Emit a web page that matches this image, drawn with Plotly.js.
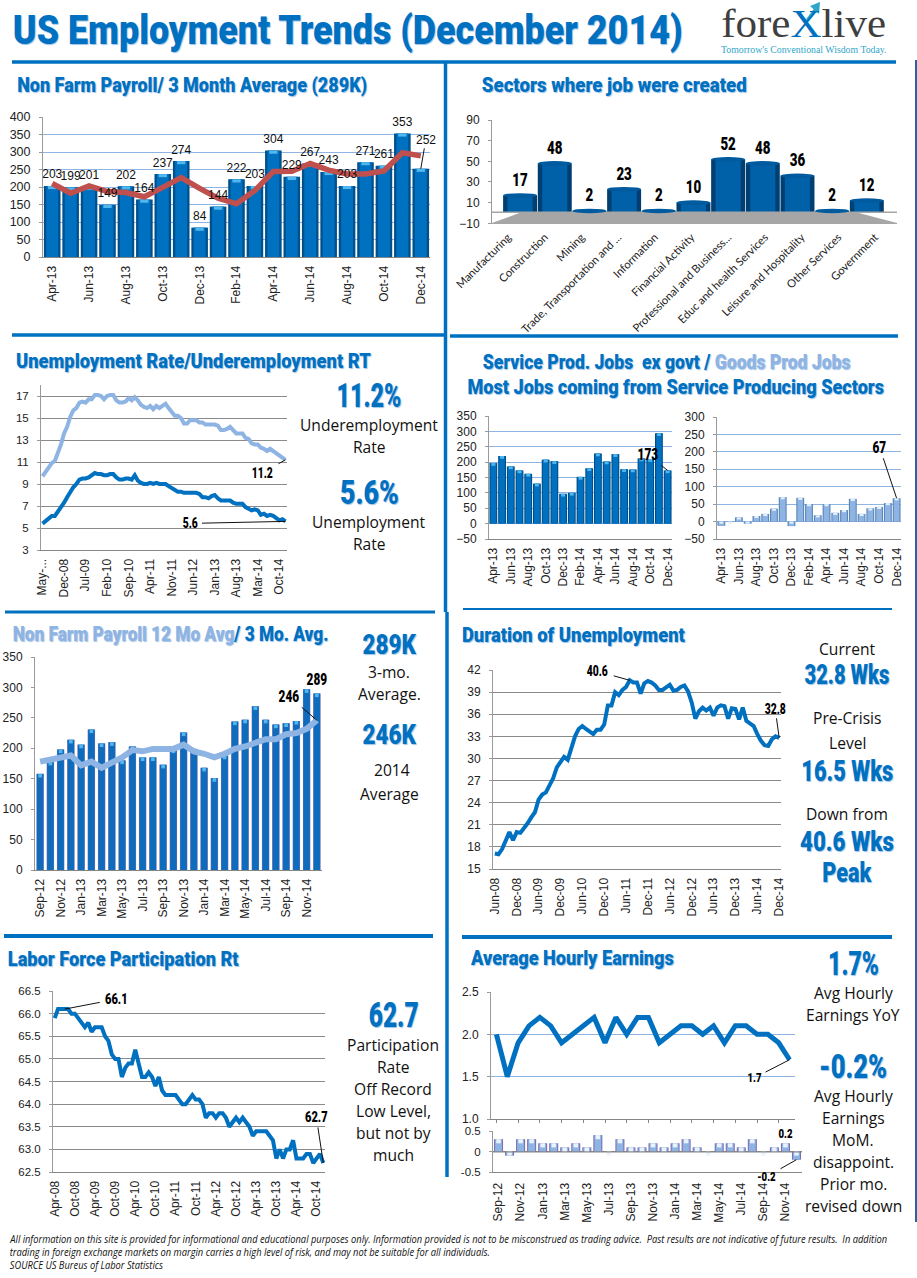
<!DOCTYPE html>
<html><head><meta charset="utf-8">
<script src="https://cdn.plot.ly/plotly-3.0.1.min.js"></script>
<style>html,body{margin:0;padding:0;background:#fff}#c{width:917px;height:1278px}</style>
</head><body><div id="c"></div>
<script>
// ---- data ----
const months21=["Apr-13","May-13","Jun-13","Jul-13","Aug-13","Sep-13","Oct-13","Nov-13","Dec-13","Jan-14","Feb-14","Mar-14","Apr-14","May-14","Jun-14","Jul-14","Aug-14","Sep-14","Oct-14","Nov-14","Dec-14"];
const months28=["Sep-12","Oct-12","Nov-12","Dec-12","Jan-13","Feb-13","Mar-13","Apr-13","May-13","Jun-13","Jul-13","Aug-13","Sep-13","Oct-13","Nov-13","Dec-13","Jan-14","Feb-14","Mar-14","Apr-14","May-14","Jun-14","Jul-14","Aug-14","Sep-14","Oct-14","Nov-14","Dec-14"];
const monNames=["Jan","Feb","Mar","Apr","May","Jun","Jul","Aug","Sep","Oct","Nov","Dec"];
function monthRange(m,y,n){const o=[];for(let i=0;i<n;i++){o.push(monNames[m]+"-"+String(y).padStart(2,"0"));m++;if(m==12){m=0;y++;}}return o;}
const nfp=[203,199,201,149,202,164,237,274,84,144,222,203,304,229,267,243,203,271,261,353,252];
const nfp3mo=[210,182,203,187,184,172,199,227,196,168,152,190,244,245,267,248,237,237,246,298,289];
const sectors=["Manufacturing","Construction","Mining","Trade, Transportation and ...","Information","Financial Activity","Professional and Business...","Educ and health Services","Leisure and Hospitality","Other Services","Government"];
const sectorJobs=[17,48,2,23,2,10,52,48,36,2,12];
const underemp=[9.7,10.1,10.5,10.9,11.1,11.8,12.6,13.6,
14.2,15.1,15.7,15.9,16.4,16.5,16.4,16.7,16.7,17.1,17.1,17.0,
16.7,17.0,17.1,17.1,16.6,16.4,16.4,16.5,16.8,16.6,16.9,16.6,
16.2,16.0,15.9,16.1,15.8,16.1,15.9,16.1,16.3,15.9,15.6,15.2,
15.2,15.0,14.5,14.5,14.8,14.8,14.8,14.6,14.6,14.4,14.4,14.4,
14.4,14.3,13.9,13.9,14.0,14.2,13.9,13.6,13.6,13.6,13.2,13.1,
12.7,12.6,12.6,12.3,12.2,12.0,12.2,12.0,11.8,11.5,11.4,11.2];
const unemp=[5.4,5.6,5.8,6.1,6.1,6.5,6.8,7.3,
7.8,8.3,8.7,9.0,9.4,9.5,9.5,9.6,9.8,10.0,9.9,9.9,
9.8,9.8,9.9,9.9,9.6,9.4,9.4,9.5,9.5,9.4,9.8,9.3,
9.1,9.0,9.0,9.1,9.0,9.1,9.0,9.0,9.0,8.8,8.6,8.5,
8.3,8.3,8.2,8.2,8.2,8.2,8.2,8.1,7.8,7.8,7.7,7.9,
8.0,7.7,7.5,7.5,7.5,7.5,7.3,7.2,7.2,7.2,6.9,6.7,
6.6,6.7,6.6,6.2,6.3,6.1,6.2,6.1,5.9,5.7,5.8,5.6];
const serviceJobs=[197,220,186,173,162,130,208,203,97,100,152,180,228,202,226,177,176,212,210,294,173];
const goodsJobs=[-12,-1,12,-6,16,22,37,70,-13,68,50,18,50,25,33,65,22,38,42,53,67];
const nfpAvg3=[158,178,198,214,206,231,208,210,180,203,185,185,173,198,226,199,168,151,188,244,247,269,247,239,241,245,297,290];
const nfpAvg12=[178,182,186,188,172,178,168,176,185,197,195,199,199,199,206,195,191,185,191,199,203,208,215,215,223,225,232,246];
const duration=[17.1,17.0,17.7,18.9,20.0,18.9,20.0,
19.9,20.5,21.2,22.0,22.7,24.4,25.1,25.4,26.5,27.3,28.8,29.6,
30.2,29.8,31.5,33.0,34.0,34.4,34.0,33.6,33.3,33.9,33.9,34.6,
37.2,37.2,39.0,38.6,39.3,39.7,40.6,40.3,40.3,38.8,40.2,40.5,
40.3,39.9,39.3,39.3,39.6,40.0,39.2,39.3,39.7,39.9,39.1,37.6,
35.4,36.4,36.9,36.5,36.9,35.8,36.9,37.2,37.1,35.4,36.8,36.7,
35.3,36.9,35.1,34.8,34.4,33.3,32.4,31.8,31.7,32.6,33.0,32.8];
const participation=[65.9,66.1,66.1,66.1,66.1,66.0,66.0,65.9,65.8,
65.7,65.8,65.6,65.7,65.7,65.7,65.5,65.4,65.1,65.0,65.0,64.6,
64.8,64.9,64.9,65.2,64.9,64.6,64.6,64.7,64.6,64.4,64.6,64.3,
64.2,64.2,64.2,64.2,64.1,64.0,64.0,64.1,64.2,64.1,64.1,64.0,
63.7,63.8,63.8,63.7,63.8,63.8,63.7,63.5,63.6,63.7,63.6,63.7,
63.6,63.5,63.3,63.4,63.4,63.4,63.4,63.3,63.2,62.8,63.0,62.8,
63.0,63.0,63.2,62.8,62.8,62.8,62.9,62.9,62.7,62.8,62.9,62.7];
const earningsYoY=[2.0,1.5,1.9,2.1,2.2,2.1,1.9,2.0,2.1,2.2,1.9,2.2,2.0,2.2,2.2,1.9,2.0,2.1,2.1,2.0,2.1,1.9,2.1,2.1,2.0,2.0,1.9,1.7];
const earningsMoM=[0.3,-0.1,0.3,0.3,0.2,0.2,0.1,0.2,0.1,0.4,0,0.3,0.1,0.1,0.2,0.1,0.2,0.3,0.1,0,0.2,0.2,0.1,0.3,0,0.1,0.2,-0.2];
const monthsU=monthRange(4,8,80), monthsD=monthRange(5,8,79), monthsL=monthRange(3,8,81);

// ---- style ----
const W=917,H=1278;
const BLUE="#0070c0",LIGHT="#8eb4e3",GRID="#8a8a8a",ARIAL="Liberation Sans",HEAD="Roboto",BODY="Open Sans";
const layout={width:W,height:H,margin:{l:0,r:0,t:0,b:0},paper_bgcolor:"#fff",plot_bgcolor:"#fff",showlegend:false,barmode:"overlay",annotations:[],shapes:[],hovermode:false};
const data=[];
const fits=[];            // text|size -> target width (condensed display face)
function every(a,n){return a.filter((_,i)=>i%n==0);}
function panel(n,x0,x1,yt,yb,o){
  const sx=n==1?"":n;
  layout["xaxis"+sx]=Object.assign({type:"category",domain:[x0/W,x1/W],anchor:"y"+sx,tickangle:-90,ticklabelstandoff:3,
    tickfont:{family:ARIAL,size:12,color:"#222"},showgrid:false,showline:true,linecolor:"#868686",ticks:"",zeroline:false,automargin:false,fixedrange:true},o.x);
  layout["yaxis"+sx]=Object.assign({domain:[1-yb/H,1-yt/H],anchor:"x"+sx,tickfont:{family:ARIAL,size:o.ysize||12,color:"#222"},ticklabelstandoff:6,
    showline:true,linecolor:"#9a9a9a",ticks:"outside",ticklen:3,tickcolor:"#9a9a9a",gridcolor:o.grid||GRID,gridwidth:1,showgrid:o.grid!==null,zeroline:false,automargin:false,fixedrange:true},o.y);
}
function ref(n){return n==1?["x","y"]:["x"+n,"y"+n];}
function bars(n,cats,vals,w,dark,mid,cap,d,midw,xa0){
  const [xa1,ya]=ref(n); const xa=xa0||xa1;
  data.push({type:"bar",x:cats,y:vals,width:w,xaxis:xa,yaxis:ya,marker:{color:dark,line:{width:0}}});
  data.push({type:"bar",x:cats,y:vals,width:w*(midw||0.72),xaxis:xa,yaxis:ya,marker:{color:mid,line:{width:0}}});
  data.push({type:"bar",x:cats,y:vals.map(()=>d),base:vals.map(v=>Math.max(v,0)-d),width:w*0.5,xaxis:xa,yaxis:ya,marker:{color:cap,line:{width:0}}});
}
function line(n,cats,vals,color,width){
  const [xa,ya]=ref(n);
  data.push({type:"scatter",mode:"lines",x:cats,y:vals,xaxis:xa,yaxis:ya,line:{color,width},cliponaxis:false});
}
function T(text,px,py,size,o={}){
  layout.annotations.push({text,x:px/W,y:1-py/H,xref:"paper",yref:"paper",showarrow:false,xanchor:o.anchor||"center",yanchor:"middle",
    font:{family:o.family||BODY,size,color:o.color||"#111",weight:o.weight||400,style:o.style||"normal",shadow:o.shadow||"none"}});
}
const glow="1px 1px 1px #9fc3e6";
function plain(s){return s.replace(/<[^>]+>/g,"");}
function big(text,px,py,size,w){T(text,px,py,size,{family:HEAD,weight:900,color:BLUE,shadow:glow});fits.push([plain(text),size,w]);}
function head(text,px,py,size,w){big(text,px+w/2,py,size,w);}
function body(text,px,py){T(text,px,py,15.6);}
function lab(n,x,y,text,ax,ay,arrow=true,size=14){
  const [xa,ya]=ref(n);
  layout.annotations.push({text,xref:xa,yref:ya,x,y,ax,ay,axref:"pixel",ayref:"pixel",showarrow:true,arrowhead:0,arrowwidth:arrow?1:0.01,arrowcolor:arrow?"#111":"rgba(0,0,0,0)",
    font:{family:HEAD,size,weight:900,color:"#000"}});
}
function rule(x0,y0,x1,y1,w,c){layout.shapes.push({type:"line",xref:"paper",yref:"paper",x0:x0/W,x1:x1/W,y0:1-y0/H,y1:1-y1/H,line:{color:c||BLUE,width:w}});}

// ---- panel 1: payroll ----
panel(1,43,430,117,257,{grid:LIGHT,ysize:12.5,x:{tickvals:every(months21,2),range:[-0.5,20.5]},y:{range:[0,400],tickvals:[0,50,100,150,200,250,300,350,400]}});
bars(1,months21,nfp,0.9,"#00508c",BLUE,"#4fb7ee",9);
line(1,months21,nfp3mo,"#c0504d",5.5);
data.push({type:"scatter",mode:"text",x:months21.slice(0,20),y:nfp.slice(0,20).map(v=>v+13),text:nfp.slice(0,20).map(String),textposition:"top center",textfont:{family:ARIAL,size:12,color:"#111"},cliponaxis:false,xaxis:"x",yaxis:"y"});
lab(1,"Dec-14",252,"252",5,-29,true,12);
layout.annotations[layout.annotations.length-1].font={family:ARIAL,size:12,color:"#111"};

// ---- panel 2: sectors (labels on x2, spaced wider than the perspective bars on x11) ----
panel(2,492,897,120,223.3,{grid:null,x:{tickvals:sectors,categoryorder:"array",categoryarray:sectors,range:[-0.436,10.6],tickangle:-45,ticklabelstandoff:2,tickfont:{family:"Lato",size:11.2,color:"#222"},linecolor:"#a6a6a6"},y:{range:[-10,90],tickvals:[-10,10,30,50,70,90]}});
layout.xaxis11={type:"category",categoryorder:"array",categoryarray:sectors,domain:[492/W,897/W],anchor:"y2",overlaying:"x2",range:[-0.81,10.87],showticklabels:false,showline:false,showgrid:false,ticks:"",zeroline:false,fixedrange:true};
data.push({type:"scatter",mode:"markers",x:sectors,y:sectorJobs,marker:{opacity:0},xaxis:"x2",yaxis:"y2"});
layout.shapes.push({type:"path",xref:"paper",yref:"paper",layer:"below",path:`M ${492/W} ${1-223/H} L ${897/W} ${1-223/H} L ${855/W} ${1-212/H} L ${522/W} ${1-212/H} Z`,fillcolor:"#a6a6a6",line:{width:0}});
rule(492,212.3,897,212.3,1.5,"#a6a6a6");
bars(2,sectors,sectorJobs,0.98,"#003f72","#0060a8","#0070c0",0.02,0.74,"x11");
sectors.forEach((s,i)=>{
  layout.shapes.push({type:"circle",xref:"x11",yref:"y2",x0:i-0.49,x1:i+0.49,y0:sectorJobs[i]-2.2,y1:sectorJobs[i]+2.2,fillcolor:"#005a9e",line:{width:0}});
});
data.push({type:"scatter",mode:"text",x:sectors,y:sectorJobs.map(v=>v+5),text:sectorJobs.map(String),textposition:"top center",textfont:{family:HEAD,size:18,weight:900,color:"#000"},cliponaxis:false,xaxis:"x11",yaxis:"y2"});

// ---- panel 3: unemployment ----
panel(3,41,287,385,550,{ysize:11.5,x:{tickvals:every(monthsU,7),ticktext:every(monthsU,7).map((m,i)=>i==0?"May-...":m),range:[-0.5,79.5]},y:{range:[3,18],tickvals:[3,5,7,9,11,13,15,17]}});
line(3,monthsU,underemp,LIGHT,4);
line(3,monthsU,unemp,BLUE,4);
lab(3,"Dec-14",11.2,"11.2",-23,13);
lab(3,"Dec-14",5.6,"5.6",-95,2);

// ---- panel 4,5: service / goods ----
panel(4,489,672,416,539,{grid:LIGHT,x:{tickvals:every(months21,2),range:[-0.5,20.5]},y:{range:[-50,350],tickvals:[-50,0,50,100,150,200,250,300,350]}});
bars(4,months21,serviceJobs,0.9,"#004f88",BLUE,"#4fb7ee",9);
lab(4,"Dec-14",173,"173",-20,-16,true,16);
panel(5,717,901,417,539,{grid:LIGHT,x:{tickvals:every(months21,2),range:[-0.5,20.5]},y:{range:[-50,300],tickvals:[-50,0,50,100,150,200,250,300]}});
bars(5,months21,goodsJobs,0.9,"#5b86b8",LIGHT,"#e4f0fb",6);
lab(5,"Dec-14",67,"67",-17,-51,true,16);

// ---- panel 6: 12 mo / 3 mo ----
panel(6,35,322,657,870,{grid:null,x:{tickvals:every(months28,2),range:[-0.5,27.5]},y:{range:[0,350],tickvals:[0,50,100,150,200,250,300,350]}});
bars(6,months28,nfpAvg3,0.72,"#7f6fb0","#0f6cbd","#4fb7ee",6,0.88);
line(6,months28,nfpAvg12,LIGHT,6);
lab(6,"Dec-14",246,"246",-28,-24,true,16);
lab(6,"Dec-14",290,"289",0,-14,false,16);

// ---- panel 7: duration ----
panel(7,493,781,670,869,{x:{tickvals:every(monthsD,6),range:[-0.5,78.5]},y:{range:[15,42],tickvals:[15,18,21,24,27,30,33,36,39,42]}});
line(7,monthsD,duration,BLUE,4);
lab(7,"Jul-11",40.6,"40.6",-32,-9);
lab(7,"Dec-14",32.8,"32.8",-4,-29);

// ---- panel 8: participation ----
panel(8,53,325,991,1172,{ysize:11.5,x:{tickvals:every(monthsL,6),range:[-0.5,80.5]},y:{range:[62.5,66.5],tickvals:[62.5,63,63.5,64,64.5,65,65.5,66,66.5],tickformat:".1f"}});
line(8,monthsL,participation,BLUE,4);
lab(8,"Jul-08",66.1,"66.1",52,-10,true,15);
lab(8,"Dec-14",62.7,"62.7",-7,-46,true,15);

// ---- panel 9,10: earnings ----
panel(9,491,795,992,1119,{grid:LIGHT,x:{showticklabels:false,ticks:"outside",ticklen:3,tickcolor:"#888",tickvals:every(months28,2),range:[-0.5,27.5]},y:{range:[1,2.5],tickvals:[1,1.5,2,2.5],tickformat:".1f"}});
line(9,months28,earningsYoY,BLUE,5);
lab(9,"Dec-14",1.7,"1.7",-35,18,true,13);
panel(10,493,802,1131,1172,{grid:"#868686",ysize:11.5,x:{tickvals:every(months28,2),range:[-0.5,27.5],ticklabelstandoff:5},y:{range:[-0.5,0.5],tickvals:[-0.5,0,0.5],ticktext:["-0.5","0","0.5"]}});
bars(10,months28,earningsMoM,0.82,"#7f6fb0",LIGHT,"#eaf3fb",0.1,0.76);
rule(493,1152,802,1152,1,"#868686");
lab(10,"Nov-14",0.2,"0.2",0,-10,false,13);
lab(10,"Dec-14",-0.2,"-0.2",-30,17,true,13);

// ---- headings ----
head("US Employment Trends (December 2014)",12,30,40,670);
head("Non Farm Payroll/ 3 Month Average (289K)",17,85,21,350);
head("Sectors where job were created",482,85,21,265);
head("Unemployment Rate/Underemployment RT",16,361,21,355);
head(`Service Prod. Jobs  ex govt / <span style="color:${LIGHT}">Goods Prod Jobs</span>`,482,362,21,368);
head("Most Jobs coming from Service Producing Sectors",467,387,21,417);
head(`<span style="color:${LIGHT}">Non Farm Payroll 12 Mo Avg</span>/ 3 Mo. Avg.`,12,634,21,316);
head("Duration of Unemployment",462,635,21,223);
head("Labor Force Participation Rt",8,959,21,231);
head("Average Hourly Earnings",470,958,21,204);

// ---- callouts ----
big("11.2%",369,395,33,65);body("Underemployment",369,425);body("Rate",369,447);
big("5.6%",369,492,33,59);body("Unemployment",369,522);body("Rate",369,544);
big("289K",389,645,27,54);body("3-mo.",389,672);body("Average.",389,694);
big("246K",389,735,27,54);body("2014",392,770);body("Average",389,794);
body("Current",847,649);big("32.8 Wks",847,675,27,85);
body("Pre-Crisis",847,718);body("Level",847,743);big("16.5 Wks",847,770,30,92);
body("Down from",847,814);big("40.6 Wks",847,842,27,94);big("Peak",847,873,27,50);
big("62.7",393,1015,35,50);
["Participation","Rate","Off Record","Low Level,","but not by","much"].forEach((s,i)=>body(s,393,1045+22*i));
big("1.7%",853,963,34,51);body("Avg Hourly",853,993);body("Earnings YoY",853,1015);
big("-0.2%",853,1066,34,68);
["Avg Hourly","Earnings","MoM.","disappoint.","Prior mo.","revised down"].forEach((s,i)=>body(s,853,1096+22*i));

// ---- logo ----
T(`fore<span style="color:${BLUE}">X</span>live`,803,23.5,40,{family:"Liberation Serif",color:"#3f3f3f"});
fits.push(["foreXlive",40,165]);
T("Tomorrow's Conventional Wisdom Today.",804,49,9.8,{family:"Liberation Serif",color:"#2fa6c9"});
rule(807,20,816,8,2.5,"#2fa6c9");
layout.shapes.push({type:"path",xref:"paper",yref:"paper",path:`M ${810/W} ${1-6/H} L ${820/W} ${1-2/H} L ${819/W} ${1-14/H} Z`,fillcolor:"#2fa6c9",line:{width:0}});

// ---- footer ----
const footer=["All information on this site is provided for informational and educational purposes only. Information provided is not to be misconstrued as trading advice.  Past results are not indicative of future results.  In addition","trading in foreign exchange markets on margin carries a high level of risk, and may not be suitable for all individuals.","SOURCE US Bureus of Labor Statistics"];
const footerW=[879,481,154];
footer.forEach((s,i)=>{T(s,9+footerW[i]/2,1239+13*i,10,{style:"italic"});fits.push([s,10,footerW[i]]);});

// ---- dividers ----
rule(12,62,896,62,3.5);
rule(445.5,62,445.5,612,3.5);
rule(447,612,447,1177,3.5);
rule(12,335,445,335,3.5);
rule(450,336,898,336,3.5);
rule(5,612,435,612,3);
rule(463,609,892,609,2);
rule(4,936,433,936,4);
rule(462,937,892,937,4);
rule(916,60,916,1222,2,"#2f5f9f");

Plotly.newPlot("c",data,layout,{displayModeBar:false,staticPlot:true}).then(()=>{
  const norm=s=>s.replace(/\s+/g," ").trim();
  const key=(t,sz)=>norm(t)+"|"+parseFloat(sz);
  const map=new Map(fits.map(([t,sz,w])=>[key(t,sz),w]));
  // condense a text around its own centre, so its box stays truthful
  const squeeze=(el,s)=>{
    const b=el.getBBox(),cx=b.x+b.width/2;
    el.setAttribute("transform",(el.getAttribute("transform")||"")+` translate(${cx} 0) scale(${s} 1) translate(${-cx} 0)`);
  };
  document.querySelectorAll(".annotation-text").forEach(el=>{
    const k=key(el.textContent,el.style.fontSize);
    if(map.has(k)) squeeze(el,map.get(k)/el.getBBox().width);
    else if((el.style.fontFamily||"").includes("Roboto")) squeeze(el,0.74);
  });
  document.querySelectorAll(".textpoint text").forEach(el=>{
    if((el.style.fontFamily||"").includes("Roboto")) squeeze(el,0.74);
  });
});
</script></body></html>
